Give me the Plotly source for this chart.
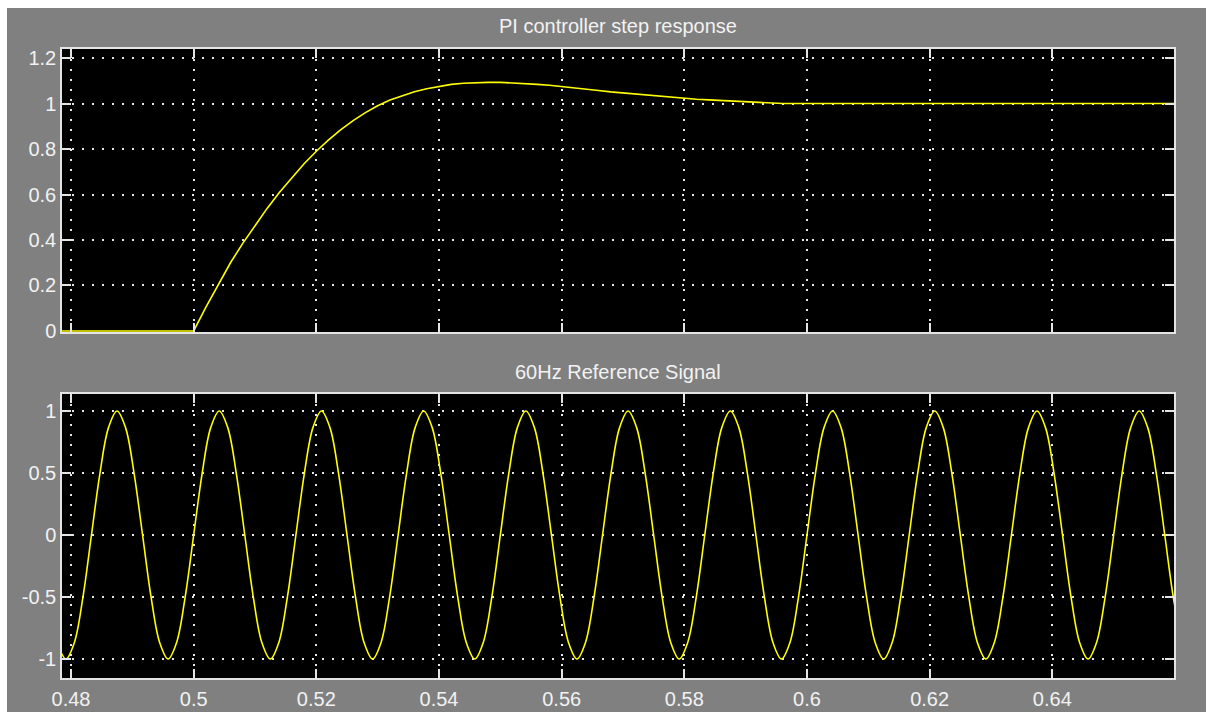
import numpy as np
import plotly.graph_objects as go
from plotly.subplots import make_subplots

# ---- PI controller step response (time in s, output in p.u.) ----
step_t = [0.470, 0.500, 0.502, 0.504, 0.506, 0.508, 0.510, 0.512, 0.514, 0.516,
          0.518, 0.520, 0.522, 0.524, 0.526, 0.528, 0.530, 0.532, 0.534, 0.536,
          0.538, 0.540, 0.542, 0.544, 0.546, 0.548, 0.550, 0.552, 0.554, 0.556,
          0.558, 0.560, 0.562, 0.564, 0.566, 0.568, 0.570, 0.572, 0.574, 0.576,
          0.578, 0.580, 0.582, 0.584, 0.586, 0.588, 0.590, 0.592, 0.594, 0.596,
          0.660]
step_y = [0.000, 0.000, 0.105, 0.205, 0.300, 0.385, 0.465, 0.540, 0.610, 0.675,
          0.735, 0.790, 0.840, 0.885, 0.925, 0.960, 0.990, 1.015, 1.035, 1.052,
          1.065, 1.076, 1.084, 1.089, 1.092, 1.093, 1.093, 1.091, 1.088, 1.084,
          1.080, 1.075, 1.069, 1.063, 1.057, 1.051, 1.046, 1.041, 1.036, 1.031,
          1.026, 1.022, 1.019, 1.016, 1.013, 1.010, 1.007, 1.004, 1.002, 1.000,
          1.000]

# ---- 60 Hz reference, sampled every 1/720 s starting at t = 344/720 s ----
ref_t0 = 344 / 720
ref_dt = 1 / 720
ref_y = [
    -0.866, -1.0, -0.866, -0.5, 0.0, 0.5, 0.866, 1.0, 0.866, 0.5, 0.0, -0.5,
    -0.866, -1.0, -0.866, -0.5, 0.0, 0.5, 0.866, 1.0, 0.866, 0.5, 0.0, -0.5,
    -0.866, -1.0, -0.866, -0.5, 0.0, 0.5, 0.866, 1.0, 0.866, 0.5, 0.0, -0.5,
    -0.866, -1.0, -0.866, -0.5, 0.0, 0.5, 0.866, 1.0, 0.866, 0.5, 0.0, -0.5,
    -0.866, -1.0, -0.866, -0.5, 0.0, 0.5, 0.866, 1.0, 0.866, 0.5, 0.0, -0.5,
    -0.866, -1.0, -0.866, -0.5, 0.0, 0.5, 0.866, 1.0, 0.866, 0.5, 0.0, -0.5,
    -0.866, -1.0, -0.866, -0.5, 0.0, 0.5, 0.866, 1.0, 0.866, 0.5, 0.0, -0.5,
    -0.866, -1.0, -0.866, -0.5, 0.0, 0.5, 0.866, 1.0, 0.866, 0.5, 0.0, -0.5,
    -0.866, -1.0, -0.866, -0.5, 0.0, 0.5, 0.866, 1.0, 0.866, 0.5, 0.0, -0.5,
    -0.866, -1.0, -0.866, -0.5, 0.0, 0.5, 0.866, 1.0, 0.866, 0.5, 0.0, -0.5,
    -0.866, -1.0, -0.866, -0.5, 0.0, 0.5, 0.866, 1.0, 0.866, 0.5, 0.0, -0.5,
    -0.866,
]
ref_t = ref_t0 + ref_dt * np.arange(len(ref_y))

x_ticks = [0.48, 0.50, 0.52, 0.54, 0.56, 0.58, 0.60, 0.62, 0.64]
x_labels = ["0.48", "0.5", "0.52", "0.54", "0.56", "0.58", "0.6", "0.62", "0.64"]
top_ticks = [0, 0.2, 0.4, 0.6, 0.8, 1.0, 1.2]
top_labels = ["0", "0.2", "0.4", "0.6", "0.8", "1", "1.2"]
bot_ticks = [-1, -0.5, 0, 0.5, 1]
bot_labels = ["-1", "-0.5", "0", "0.5", "1"]

titles = ["PI controller step response", "60Hz Reference Signal"]

SCOPE_BG = "#808080"
TRACE = "#ffff00"
FRAME = "#e4e4e4"
TEXT = "#f2f2f2"
FONT = "Liberation Sans, Arial, sans-serif"

fig = make_subplots(rows=2, cols=1)

fig.add_trace(go.Scatter(x=step_t, y=step_y, mode="lines",
                         line=dict(color=TRACE, width=1.6),
                         showlegend=False, hoverinfo="skip"), row=1, col=1)
fig.add_trace(go.Scatter(x=ref_t, y=ref_y, mode="lines",
                         line=dict(color=TRACE, width=1.6, shape="spline", smoothing=1),
                         showlegend=False, hoverinfo="skip"), row=2, col=1)

axis_common = dict(
    showline=True, linecolor=FRAME, linewidth=1.5, mirror="ticks",
    ticks="inside", ticklen=9, tickwidth=1.5, tickcolor=FRAME,
    showgrid=True, gridcolor="#e6e6e6", gridwidth=2, griddash="2px,8px",
    zeroline=False, automargin=False,
    tickfont=dict(family=FONT, size=20, color=TEXT),
)

x_range = [0.47853, 0.65984]
fig.update_xaxes(range=x_range, tickmode="array", tickvals=x_ticks,
                 ticktext=x_labels, **axis_common)
fig.update_xaxes(showticklabels=False, row=1, col=1)
fig.update_xaxes(ticklabelstandoff=2, row=2, col=1)

fig.update_yaxes(range=[-0.0044, 1.2396], tickmode="array", tickvals=top_ticks,
                 ticktext=top_labels, row=1, col=1, **axis_common)
fig.update_yaxes(range=[-1.153, 1.137], tickmode="array", tickvals=bot_ticks,
                 ticktext=bot_labels, row=2, col=1, **axis_common)

fig.update_layout(
    xaxis=dict(domain=[0, 1]), xaxis2=dict(domain=[0, 1]),
    yaxis=dict(domain=[0.5501, 1.0]), yaxis2=dict(domain=[0.0, 0.4515]),
)

# subplot titles
for text, ypos in zip(titles, [1.0366, 0.4865]):
    fig.add_annotation(text=text, xref="paper", yref="paper", x=0.5, y=ypos,
                       xanchor="center", yanchor="middle", showarrow=False,
                       font=dict(family=FONT, size=20, color=TEXT))

# white window border strips at top and left
fig.add_shape(type="rect", xref="paper", yref="paper", x0=-0.2, x1=1.2,
              y0=1.0652, y1=1.3, fillcolor="white", line_width=0, layer="below")
fig.add_shape(type="rect", xref="paper", yref="paper", x0=-0.2, x1=-0.04946,
              y0=-0.2, y1=1.3, fillcolor="white", line_width=0, layer="below")

fig.update_layout(
    width=1206, height=712,
    margin=dict(l=62, r=32, t=49, b=34),
    paper_bgcolor=SCOPE_BG, plot_bgcolor="black",
    showlegend=False,
)

fig.write_html("out.html")
